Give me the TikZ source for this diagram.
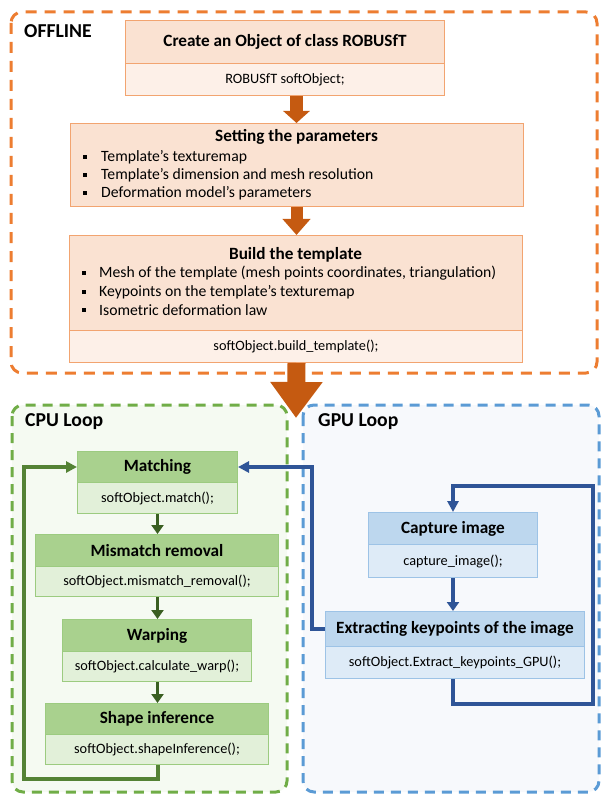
\documentclass[tikz,border=0pt]{standalone}
\usepackage{fontspec}
\setmainfont{Carlito}
\usetikzlibrary{arrows.meta,calc}
\definecolor{orline}{HTML}{ED7D31}
\definecolor{orarrow}{HTML}{C55A11}
\definecolor{orhdr}{HTML}{FAE2D2}
\definecolor{orbody}{HTML}{FDF0E8}
\definecolor{orbd}{HTML}{F2A470}
\definecolor{grline}{HTML}{70AD47}
\definecolor{grfill}{HTML}{F5FAF2}
\definecolor{grhdr}{HTML}{A9D18E}
\definecolor{grbody}{HTML}{E2F0D9}
\definecolor{grbd}{HTML}{9CCB80}
\definecolor{grloop}{HTML}{548235}
\definecolor{grarrow}{HTML}{3A5F22}
\definecolor{blline}{HTML}{5B9BD5}
\definecolor{blfill}{HTML}{F7F9FC}
\definecolor{blhdr}{HTML}{BDD7EE}
\definecolor{blbody}{HTML}{DEEBF7}
\definecolor{blbd}{HTML}{9DC3E6}
\definecolor{blarrow}{HTML}{2F5597}
\begin{document}
\begin{tikzpicture}[x=1pt,y=-1pt,
  box/.style={rectangle, inner sep=0pt, line width=1pt, anchor=north west},
  ohdr/.style={box, draw=orbd, fill=orhdr, font=\fontsize{17.2}{20}\selectfont\bfseries},
  obody/.style={box, draw=orbd, fill=orbody, font=\fontsize{14.3}{17}\selectfont},
  ghdr/.style={box, draw=grbd, fill=grhdr, font=\fontsize{17.2}{20}\selectfont\bfseries},
  gbody/.style={box, draw=grbd, fill=grbody, font=\fontsize{14.3}{17}\selectfont},
  bhdr/.style={box, draw=blbd, fill=blhdr, font=\fontsize{17.2}{20}\selectfont\bfseries},
  bbody/.style={box, draw=blbd, fill=blbody, font=\fontsize{14.3}{17}\selectfont},
  ttl/.style={inner sep=0pt, font=\fontsize{17.2}{20}\selectfont\bfseries},
  blt/.style={rectangle, fill=black, inner sep=0pt, minimum size=4.5pt},
  btxt/.style={inner sep=0pt, anchor=west, font=\fontsize{15.7}{19}\selectfont},
  grp/.style={inner sep=0pt, anchor=west, font=\fontsize{19.7}{23}\selectfont\bfseries},
  garr/.style={grarrow, line width=3.5pt, -{Triangle[width=12pt,length=9pt]}},
  gloop/.style={grloop, line width=4pt, -{Triangle[width=11pt,length=11pt]}},
  barr/.style={blarrow, line width=3.5pt, -{Triangle[width=12pt,length=9pt]}},
  bloop/.style={blarrow, line width=4pt, -{Triangle[width=11pt,length=11pt]}}
]
\useasboundingbox (0,0) rectangle (602,794);
% group frames
\draw[orline, line width=3pt, dash pattern=on 11pt off 8pt, rounded corners=11pt, fill=white] (11,12) rectangle (597,373);
\draw[grline, line width=3pt, dash pattern=on 10pt off 7pt, rounded corners=11pt, fill=grfill] (12,405) rectangle (287,792);
\draw[blline, line width=3pt, dash pattern=on 10pt off 7pt, rounded corners=11pt, fill=blfill] (303,405) rectangle (599,792);
\node[grp] (loff) at (24,31) {OFFLINE};
\node[grp] (lcpu) at (25,422) {CPU Loop};
\node[grp] (lgpu) at (318,422) {GPU Loop};

% offline boxes
\node[ohdr, minimum width=319pt, minimum height=43pt] (create) at (125,20) {Create an Object of class ROBUSfT};
\node[obody, minimum width=319pt, minimum height=32pt] (createb) at (125,63) {ROBUSfT softObject;};

\node[ohdr, minimum width=453pt, minimum height=83pt] (setting) at (70,123) {};
\node[ttl] (settingt) at (296.5,137) {Setting the parameters};
\node[blt] (sb1) at (85,157) {}; \node[btxt] (st1) at (101,157) {Template’s texturemap};
\node[blt] (sb2) at (85,175) {}; \node[btxt] (st2) at (101,175) {Template’s dimension and mesh resolution};
\node[blt] (sb3) at (85,193) {}; \node[btxt] (st3) at (101,193) {Deformation model’s parameters};

\node[ohdr, minimum width=453pt, minimum height=95pt] (build) at (69,235) {};
\node[ttl] (buildt) at (295.5,255) {Build the template};
\node[blt] (bb1) at (84,273) {}; \node[btxt] (bt1) at (99,273) {Mesh of the template (mesh points coordinates, triangulation)};
\node[blt] (bb2) at (84,292) {}; \node[btxt] (bt2) at (99,292) {Keypoints on the template’s texturemap};
\node[blt] (bb3) at (84,310) {}; \node[btxt] (bt3) at (99,310) {Isometric deformation law};
\node[obody, minimum width=453pt, minimum height=32pt] (buildb) at (69,330) {softObject.build\_template();};

\coordinate (ax) at (296.5,0);
\draw[orarrow, line width=13pt, -{Triangle[width=26pt,length=12pt]}] (createb.south -| ax) -- (setting.north -| ax);
\draw[orarrow, line width=12pt, -{Triangle[width=27pt,length=16pt]}] (setting.south -| ax) -- (build.north -| ax);

% CPU boxes
\node[ghdr, minimum width=160pt, minimum height=31pt] (match) at (77,451) {Matching};
\node[gbody, minimum width=160pt, minimum height=31pt] (matchb) at (77,482) {softObject.match();};
\node[ghdr, minimum width=243pt, minimum height=32pt] (mism) at (35,534) {Mismatch removal};
\node[gbody, minimum width=243pt, minimum height=30pt] (mismb) at (35,566) {softObject.mismatch\_removal();};
\node[ghdr, minimum width=189pt, minimum height=32pt] (warp) at (62,619) {Warping};
\node[gbody, minimum width=189pt, minimum height=30pt] (warpb) at (62,651) {softObject.calculate\_warp();};
\node[ghdr, minimum width=223pt, minimum height=31pt] (shape) at (45,703) {Shape inference};
\node[gbody, minimum width=223pt, minimum height=30pt] (shapeb) at (45,734) {softObject.shapeInference();};

\draw[garr] (matchb.south) -- (mism.north -| matchb.south);
\draw[garr] (mismb.south -| matchb.south) -- (warp.north -| matchb.south);
\draw[garr] (warpb.south -| matchb.south) -- (shape.north -| matchb.south);
\coordinate (gl) at (24,779);
\draw[gloop] (shapeb.south -| matchb.south) |- (gl) |- (match.west);

% GPU boxes
\node[bhdr, minimum width=169pt, minimum height=32pt] (cap) at (368,512) {Capture image};
\node[bbody, minimum width=169pt, minimum height=33pt] (capb) at (368,544) {capture\_image();};
\node[bhdr, minimum width=259pt, minimum height=35pt] (ext) at (325,611) {Extracting keypoints of the image};
\node[bbody, minimum width=259pt, minimum height=32pt] (extb) at (325,646) {softObject.Extract\_keypoints\_GPU();};

\draw[barr] (capb.south) -- (ext.north -| capb.south);
\coordinate (r1) at (593,704);
\coordinate (r2) at (593,486);
\draw[bloop] (extb.south -| capb.south) |- (r1) -- (r2) -| (cap.north);
\coordinate (bl) at (312,0);
\draw[bloop] (ext.west) -| (bl |- match.east) -- (match.east);

% big arrow
\coordinate (tip) at (296,418);
\draw[orarrow, line width=18pt, -{Triangle[width=50pt,length=36pt]}] (buildb.south -| ax) -- (tip);
\end{tikzpicture}
\end{document}
